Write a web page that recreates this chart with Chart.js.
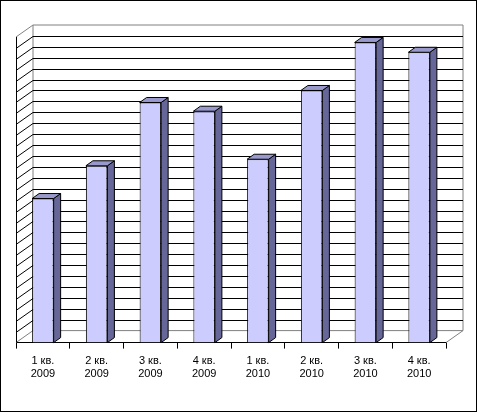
<!DOCTYPE html>
<html><head><meta charset="utf-8">
<script src="https://cdn.jsdelivr.net/npm/chart.js@4/dist/chart.umd.min.js"></script>
<style>
html,body{margin:0;padding:0;background:#fff}
#wrap{position:absolute;left:0;top:0;width:475px;height:410px;border:1px solid #000}
</style></head><body>
<div id="wrap"><canvas id="c" width="475" height="410"></canvas></div>
<script>
const categories = [["1 кв.", "2009"], ["2 кв.", "2009"], ["3 кв.", "2009"], ["4 кв.", "2009"],
  ["1 кв.", "2010"], ["2 кв.", "2010"], ["3 кв.", "2010"], ["4 кв.", "2010"]];
const values = [13.2, 16.2, 22.0, 21.2, 16.8, 23.1, 27.5, 26.6];
const yMax = 28;

const DX = 17, DY = -12, BDX = 7, BDY = -5;

const wall = {
  id: "wall",
  beforeDatasetsDraw(chart) {
    const { ctx, chartArea: a, scales: { y } } = chart;
    ctx.save();
    ctx.lineWidth = 1;
    ctx.strokeStyle = "#808080";
    ctx.beginPath();
    ctx.moveTo(a.left + DX, a.bottom + DY);
    ctx.lineTo(a.left + DX, a.top + DY);
    ctx.lineTo(a.right + DX, a.top + DY);
    ctx.lineTo(a.right + DX, a.bottom + DY);
    ctx.lineTo(a.left + DX, a.bottom + DY);
    ctx.lineTo(a.left, a.bottom);
    ctx.moveTo(a.right + DX, a.bottom + DY);
    ctx.lineTo(a.right, a.bottom);
    ctx.moveTo(a.left + DX, a.top + DY);
    ctx.lineTo(a.left, a.top);
    ctx.stroke();
    ctx.strokeStyle = "#000";
    for (let v = 1; v < yMax; v++) {
      const py = Math.round(y.getPixelForValue(v)) + 0.5;
      ctx.beginPath();
      ctx.moveTo(a.left, py);
      ctx.lineTo(a.left + DX, py + DY);
      ctx.lineTo(a.right + DX, py + DY);
      ctx.stroke();
    }
    ctx.beginPath();
    ctx.moveTo(a.left + 0.5, a.top);
    ctx.lineTo(a.left + 0.5, a.bottom);
    ctx.stroke();
    ctx.restore();
  },
  afterDatasetsDraw(chart) {
    const { ctx } = chart;
    ctx.save();
    ctx.strokeStyle = "#000";
    ctx.lineWidth = 1;
    chart.getDatasetMeta(0).data.forEach((b) => {
      const l = b.x - b.width / 2, r = b.x + b.width / 2, t = b.y, bt = b.base;
      ctx.fillStyle = "#666699";
      ctx.beginPath();
      ctx.moveTo(r, bt); ctx.lineTo(r + BDX, bt + BDY); ctx.lineTo(r + BDX, t + BDY); ctx.lineTo(r, t);
      ctx.closePath(); ctx.fill(); ctx.stroke();
      ctx.fillStyle = "#9999cc";
      ctx.beginPath();
      ctx.moveTo(l, t); ctx.lineTo(l + BDX, t + BDY); ctx.lineTo(r + BDX, t + BDY); ctx.lineTo(r, t);
      ctx.closePath(); ctx.fill(); ctx.stroke();
    });
    ctx.restore();
  }
};

new Chart(document.getElementById("c"), {
  type: "bar",
  data: {
    labels: categories,
    datasets: [{
      data: values,
      backgroundColor: "#ccccff",
      borderColor: "#000",
      borderWidth: 1,
      categoryPercentage: 0.4,
      barPercentage: 1
    }]
  },
  options: {
    responsive: false,
    animation: false,
    layout: { padding: { left: 15, right: 30, top: 36, bottom: 24 } },
    plugins: { legend: { display: false }, tooltip: { enabled: false } },
    scales: {
      y: { min: 0, max: yMax, display: false, ticks: { stepSize: 1 } },
      x: {
        grid: { drawOnChartArea: false, color: "#000", tickLength: 6 },
        border: { color: "#000" },
        ticks: { color: "#000", font: { family: "Liberation Sans", size: 11 }, maxRotation: 0, padding: 6 }
      }
    }
  },
  plugins: [wall]
});
</script></body></html>
